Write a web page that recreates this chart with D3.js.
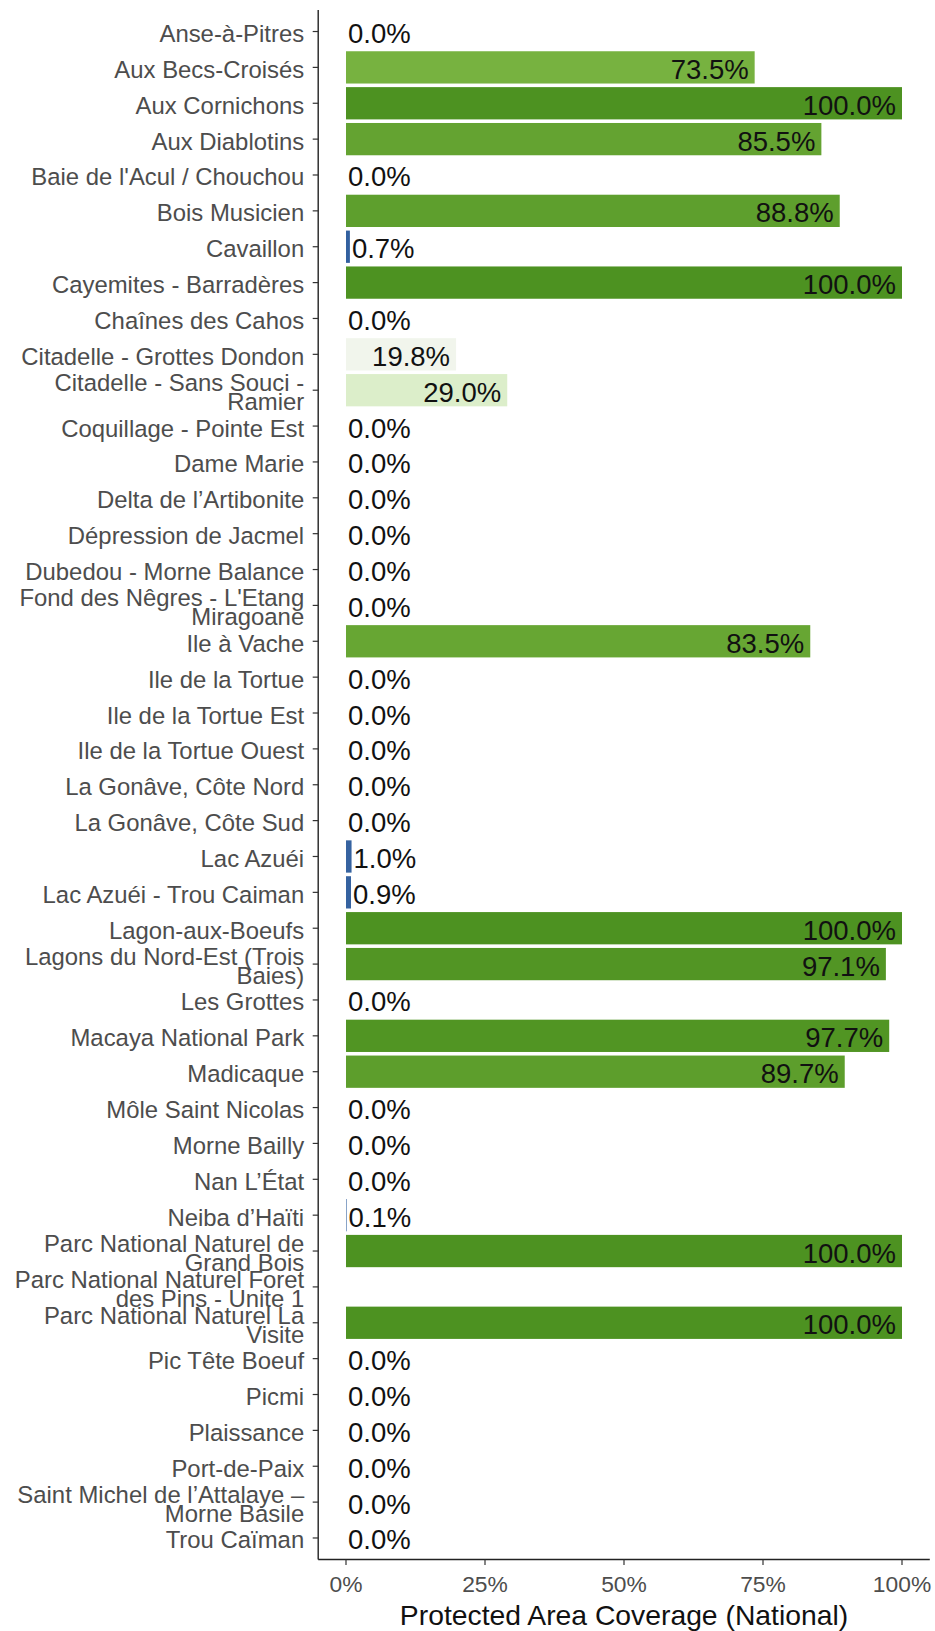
<!DOCTYPE html>
<html>
<head>
<meta charset="utf-8">
<script src="https://cdn.jsdelivr.net/npm/d3@7"></script>
<style>
  html, body { margin: 0; padding: 0; background: #fff; }
  svg { display: block; }
  text { font-family: "Liberation Sans", Arial, sans-serif; }
</style>
</head>
<body>
<svg id="chart" width="935" height="1631"></svg>
<script>
// ---- data ----
const categories = [
  "Anse-à-Pitres",
  "Aux Becs-Croisés",
  "Aux Cornichons",
  "Aux Diablotins",
  "Baie de l'Acul / Chouchou",
  "Bois Musicien",
  "Cavaillon",
  "Cayemites - Barradères",
  "Chaînes des Cahos",
  "Citadelle - Grottes Dondon",
  "Citadelle - Sans Souci -\nRamier",
  "Coquillage - Pointe Est",
  "Dame Marie",
  "Delta de l’Artibonite",
  "Dépression de Jacmel",
  "Dubedou - Morne Balance",
  "Fond des Nêgres - L'Etang\nMiragoane",
  "Ile à Vache",
  "Ile de la Tortue",
  "Ile de la Tortue Est",
  "Ile de la Tortue Ouest",
  "La Gonâve, Côte Nord",
  "La Gonâve, Côte Sud",
  "Lac Azuéi",
  "Lac Azuéi - Trou Caiman",
  "Lagon-aux-Boeufs",
  "Lagons du Nord-Est (Trois\nBaies)",
  "Les Grottes",
  "Macaya National Park",
  "Madicaque",
  "Môle Saint Nicolas",
  "Morne Bailly",
  "Nan L’État",
  "Neiba d’Haïti",
  "Parc National Naturel de\nGrand Bois",
  "Parc National Naturel Foret\ndes Pins - Unite 1",
  "Parc National Naturel La\nVisite",
  "Pic Tête Boeuf",
  "Picmi",
  "Plaissance",
  "Port-de-Paix",
  "Saint Michel de l’Attalaye –\nMorne Basile",
  "Trou Caïman"
];
// coverage, fraction of area (null = no value)
const coverage = [
  0.000, 0.735, 1.000, 0.855, 0.000, 0.888, 0.007, 1.000, 0.000, 0.198,
  0.290, 0.000, 0.000, 0.000, 0.000, 0.000, 0.000, 0.835, 0.000, 0.000,
  0.000, 0.000, 0.000, 0.010, 0.009, 1.000, 0.971, 0.000, 0.977, 0.897,
  0.000, 0.000, 0.000, 0.001, 1.000, null, 1.000, 0.000, 0.000, 0.000,
  0.000, 0.000, 0.000
];
const xTicks = [0, 0.25, 0.5, 0.75, 1];
const xTitle = "Protected Area Coverage (National)";

// ---- layout ----
const svg = d3.select("#chart");
const panel = { top: 10, bottom: 1559.5 };
const x = d3.scaleLinear().domain([0, 1]).range([346, 902]);
const xLeft = x(-0.05), xRight = x(1.05);
const y = d3.scaleBand().domain(categories).range([panel.top, panel.bottom])
  .paddingInner(0.1).paddingOuter(0.15);
const yc = c => y(c) + y.bandwidth() / 2;

const fill = d3.scaleLinear()
  .domain([0, 0.17, 0.4, 0.75, 1])
  .range(["#2a5a9b", "#f7f7f7", "#c4e5a0", "#74b03c", "#4d9221"])
  .interpolate(d3.interpolateRgb);

const rows = categories.map((c, i) => ({ c, v: coverage[i] }));
const valued = rows.filter(d => d.v !== null);

// bars
svg.append("g").selectAll("rect").data(valued).join("rect")
  .attr("x", x(0))
  .attr("y", d => y(d.c))
  .attr("width", d => x(d.v) - x(0))
  .attr("height", y.bandwidth())
  .attr("fill", d => fill(d.v));

// value labels
svg.append("g").selectAll("text").data(valued).join("text")
  .attr("x", d => d.v >= 0.1 ? x(d.v) - 6 : x(d.v) + 2)
  .attr("y", d => yc(d.c) + 11.5)
  .attr("text-anchor", d => d.v >= 0.1 ? "end" : "start")
  .attr("font-size", 27.5)
  .attr("fill", "#111")
  .text(d => (d.v * 100).toFixed(1) + "%");

// y axis
const yAxis = svg.append("g");
yAxis.append("line")
  .attr("x1", xLeft).attr("x2", xLeft)
  .attr("y1", panel.top).attr("y2", panel.bottom)
  .attr("stroke", "#222").attr("stroke-width", 1.4);
const yt = yAxis.selectAll("g.tick").data(categories).join("g").attr("class", "tick");
yt.append("line")
  .attr("x1", xLeft - 5.5).attr("x2", xLeft)
  .attr("y1", d => yc(d)).attr("y2", d => yc(d))
  .attr("stroke", "#333").attr("stroke-width", 1.2);
yt.append("text")
  .attr("text-anchor", "end")
  .attr("font-size", 23.9)
  .attr("fill", "#4d4d4d")
  .each(function(d) {
    const lines = d.split("\n");
    const t = d3.select(this);
    if (lines.length === 1) {
      t.append("tspan").attr("x", xLeft - 14).attr("y", yc(d) + 10.5).text(lines[0]);
    } else {
      lines.forEach((ln, k) => {
        t.append("tspan").attr("x", xLeft - 14).attr("y", yc(d) + 1 + k * 19).text(ln);
      });
    }
  });

// x axis
const xAxis = svg.append("g");
xAxis.append("line")
  .attr("x1", xLeft).attr("x2", xRight)
  .attr("y1", panel.bottom).attr("y2", panel.bottom)
  .attr("stroke", "#222").attr("stroke-width", 1.4);
const xt = xAxis.selectAll("g.tick").data(xTicks).join("g").attr("class", "tick");
xt.append("line")
  .attr("x1", d => x(d)).attr("x2", d => x(d))
  .attr("y1", panel.bottom).attr("y2", panel.bottom + 5.5)
  .attr("stroke", "#333").attr("stroke-width", 1.2);
xt.append("text")
  .attr("x", d => x(d)).attr("y", 1592)
  .attr("text-anchor", "middle")
  .attr("font-size", 22.8)
  .attr("fill", "#4d4d4d")
  .text(d => d3.format(".0%")(d));

svg.append("text")
  .attr("x", (xLeft + xRight) / 2).attr("y", 1625)
  .attr("text-anchor", "middle")
  .attr("font-size", 28.3)
  .attr("fill", "#111")
  .text(xTitle);
</script>
</body>
</html>
